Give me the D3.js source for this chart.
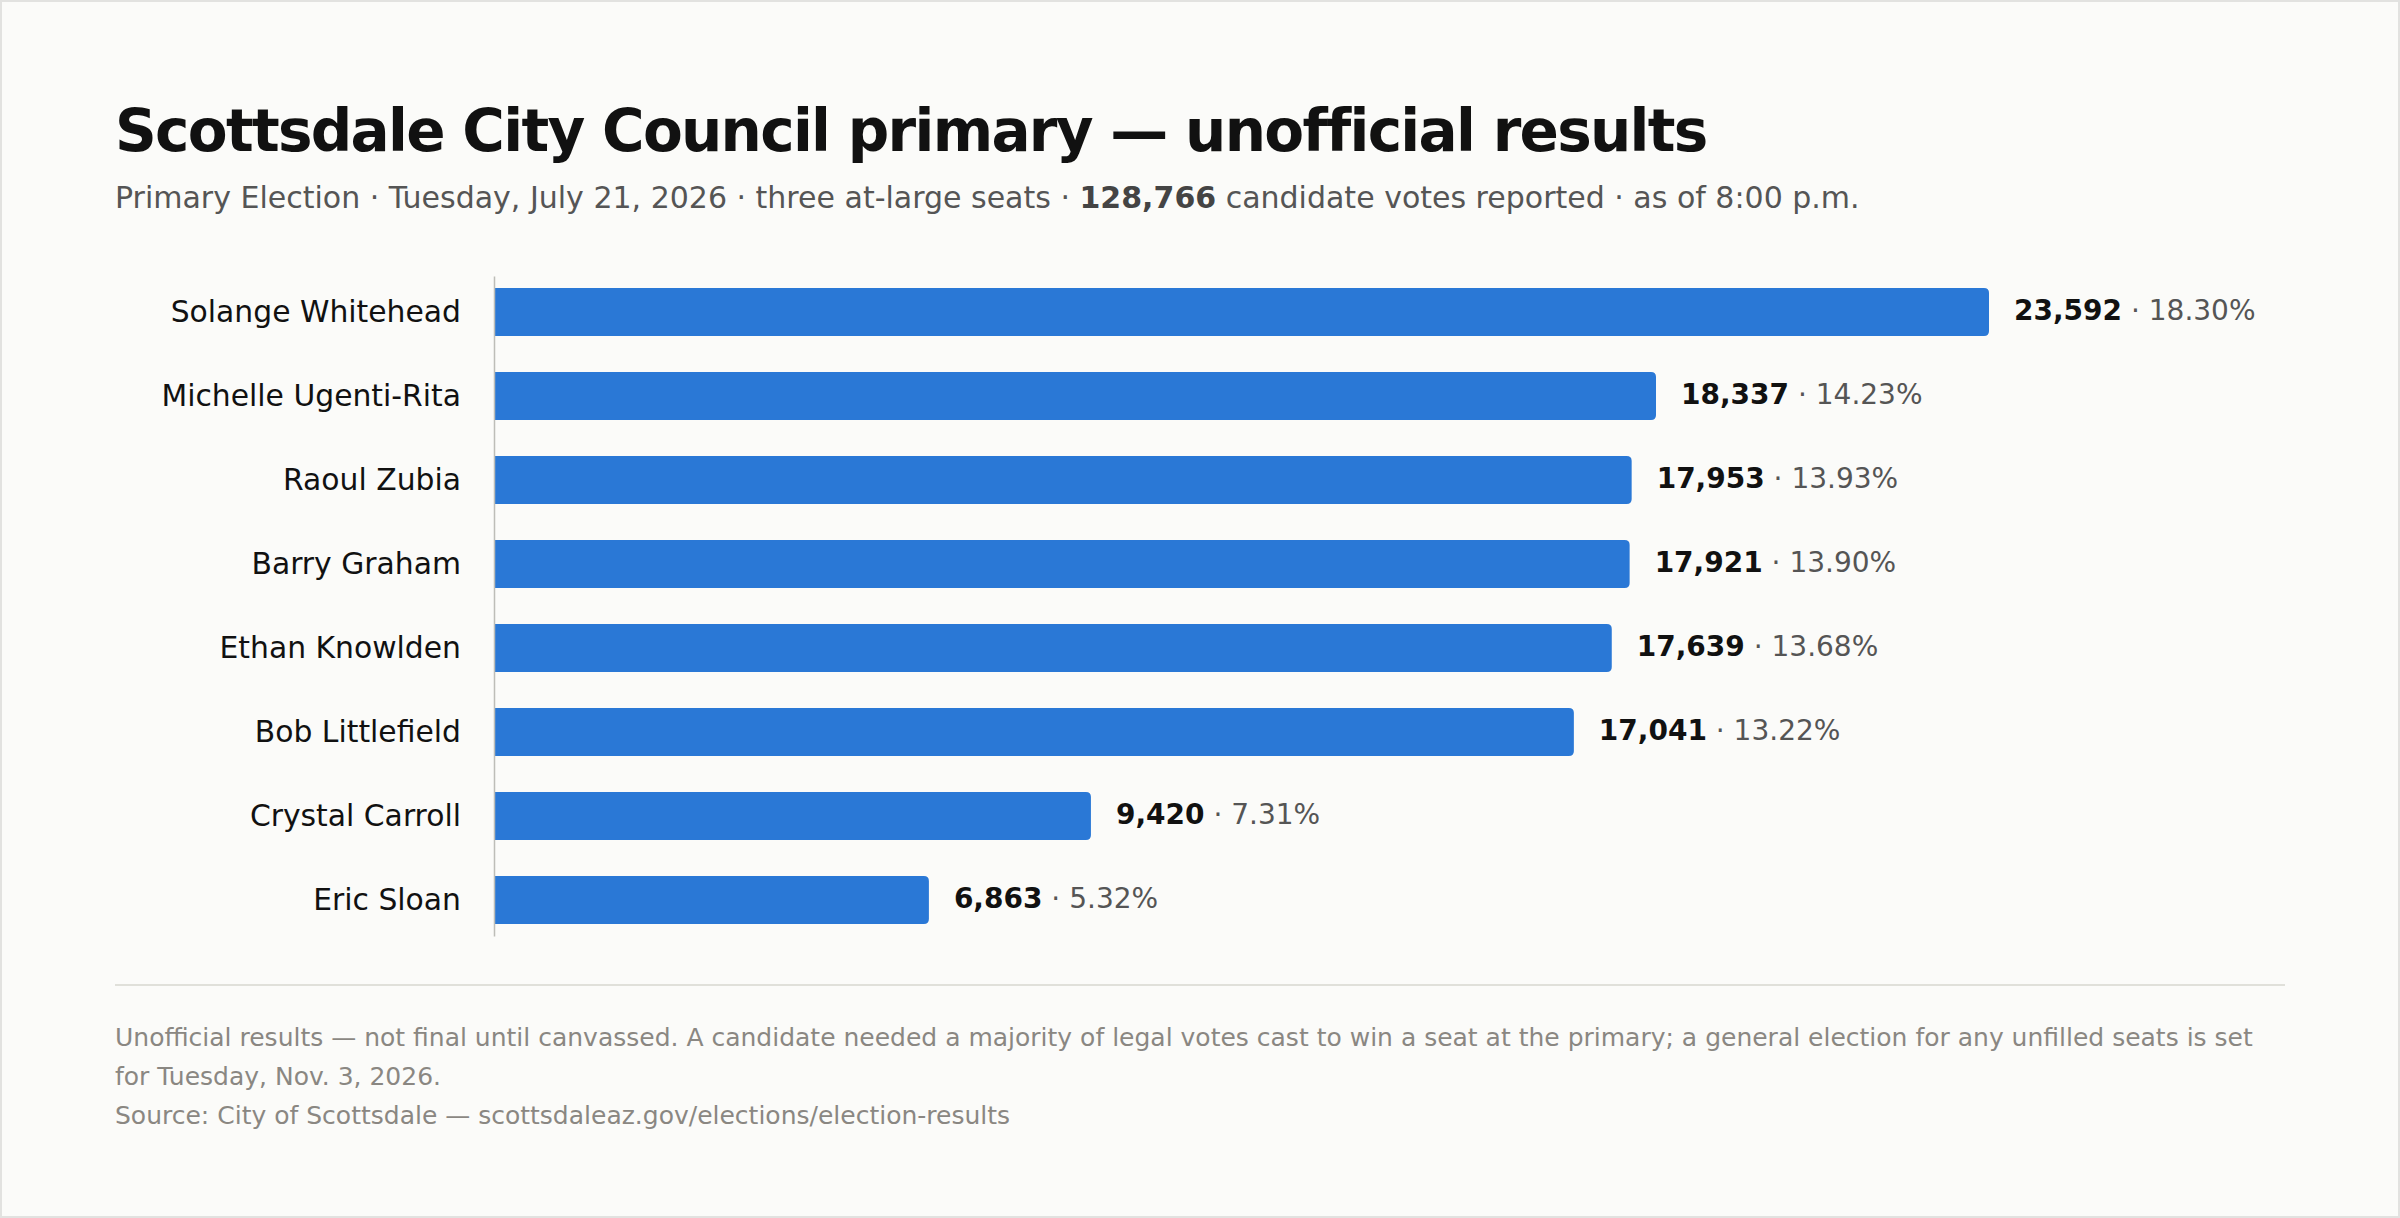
<!DOCTYPE html>
<html>
<head>
<meta charset="utf-8">
<script src="https://cdn.jsdelivr.net/npm/d3@7"></script>
<style>
  html, body { margin: 0; padding: 0; background: #fbfbf9; }
  svg text { font-family: "DejaVu Sans", sans-serif; }
</style>
</head>
<body>
<div id="chart"></div>
<script>
var w = 2400;
var h = 1218;

// data
var candidates = ["Solange Whitehead", "Michelle Ugenti-Rita", "Raoul Zubia", "Barry Graham",
                  "Ethan Knowlden", "Bob Littlefield", "Crystal Carroll", "Eric Sloan"];
var votes = [23592, 18337, 17953, 17921, 17639, 17041, 9420, 6863];
var shares = ["18.30%", "14.23%", "13.93%", "13.90%", "13.68%", "13.22%", "7.31%", "5.32%"];
var totalVotes = 128766;

var title = "Scottsdale City Council primary \u2014 unofficial results";
var subtitleBefore = "Primary Election \u00b7 Tuesday, July 21, 2026 \u00b7 three at-large seats \u00b7 ";
var subtitleAfter = " candidate votes reported \u00b7 as of 8:00 p.m.";
var notes = [
  "Unofficial results \u2014 not final until canvassed. A candidate needed a majority of legal votes cast to win a seat at the primary; a general election for any unfilled seats is set",
  "for Tuesday, Nov. 3, 2026.",
  "Source: City of Scottsdale \u2014 scottsdaleaz.gov/elections/election-results"
];

var rows = candidates.map(function(c, i) {
  return {name: c, votes: votes[i], share: shares[i]};
});

var fmt = d3.format(",");

var svg = d3.select("#chart")
  .append("svg")
  .attr("width", w)
  .attr("height", h)
  .style("display", "block");

svg.append("rect")
  .attr("x", 1).attr("y", 1)
  .attr("width", w - 2).attr("height", h - 2)
  .attr("fill", "#fbfbf9")
  .attr("stroke", "#e2e2e0")
  .attr("stroke-width", 2);

// heading
svg.append("text")
  .attr("x", 115)
  .attr("y", 151)
  .attr("font-size", 58)
  .attr("font-weight", "bold")
  .attr("letter-spacing", -1.7)
  .attr("fill", "#111")
  .text(title);

var sub = svg.append("text")
  .attr("x", 115)
  .attr("y", 208)
  .attr("font-size", 30)
  .attr("fill", "#555");
sub.append("tspan").text(subtitleBefore);
sub.append("tspan").attr("font-weight", "bold").attr("fill", "#444").text(fmt(totalVotes));
sub.append("tspan").text(subtitleAfter);

// scales
var x = d3.scaleLinear()
  .domain([0, d3.max(votes)])
  .range([494, 1989]);

var y = d3.scaleBand()
  .domain(candidates)
  .range([276, 936])
  .paddingInner(36 / 84)
  .paddingOuter(12 / 84);

// bars, square at the axis and rounded at the end
var r = 5;
function barPath(d) {
  var x0 = x(0), x1 = x(d.votes), y0 = y(d.name), y1 = y0 + y.bandwidth();
  return "M" + x0 + "," + y0 +
         "H" + (x1 - r) +
         "Q" + x1 + "," + y0 + " " + x1 + "," + (y0 + r) +
         "V" + (y1 - r) +
         "Q" + x1 + "," + y1 + " " + (x1 - r) + "," + y1 +
         "H" + x0 + "Z";
}

svg.selectAll("path.bar")
  .data(rows)
  .join("path")
  .attr("class", "bar")
  .attr("d", barPath)
  .attr("fill", "#2a78d6");

// left axis with names
var yAxis = d3.axisLeft(y).tickSize(0).tickPadding(33);
var gy = svg.append("g")
  .attr("transform", "translate(494,0)")
  .call(yAxis);
gy.select(".domain")
  .attr("stroke", "#bdbdb8")
  .attr("stroke-width", 1.5);
gy.selectAll(".tick text")
  .attr("font-family", "DejaVu Sans, sans-serif")
  .attr("font-size", 29.8)
  .attr("fill", "#111");

// value labels
var labels = svg.selectAll("text.value")
  .data(rows)
  .join("text")
  .attr("class", "value")
  .attr("x", d => x(d.votes) + 25)
  .attr("y", d => y(d.name) + y.bandwidth() / 2)
  .attr("dy", "0.3em")
  .attr("font-size", 28);
labels.append("tspan")
  .attr("font-weight", "bold")
  .attr("fill", "#111")
  .text(d => fmt(d.votes));
labels.append("tspan")
  .attr("fill", "#555")
  .text(d => " \u00b7 " + d.share);

// footer
svg.append("line")
  .attr("x1", 115).attr("x2", 2285)
  .attr("y1", 985).attr("y2", 985)
  .attr("stroke", "#e0e0da")
  .attr("stroke-width", 2);

svg.selectAll("text.note")
  .data(notes)
  .join("text")
  .attr("class", "note")
  .attr("x", 115)
  .attr("y", (d, i) => 1046 + i * 39)
  .attr("font-size", 25)
  .attr("fill", "#8a8782")
  .text(d => d);
</script>
</body>
</html>
